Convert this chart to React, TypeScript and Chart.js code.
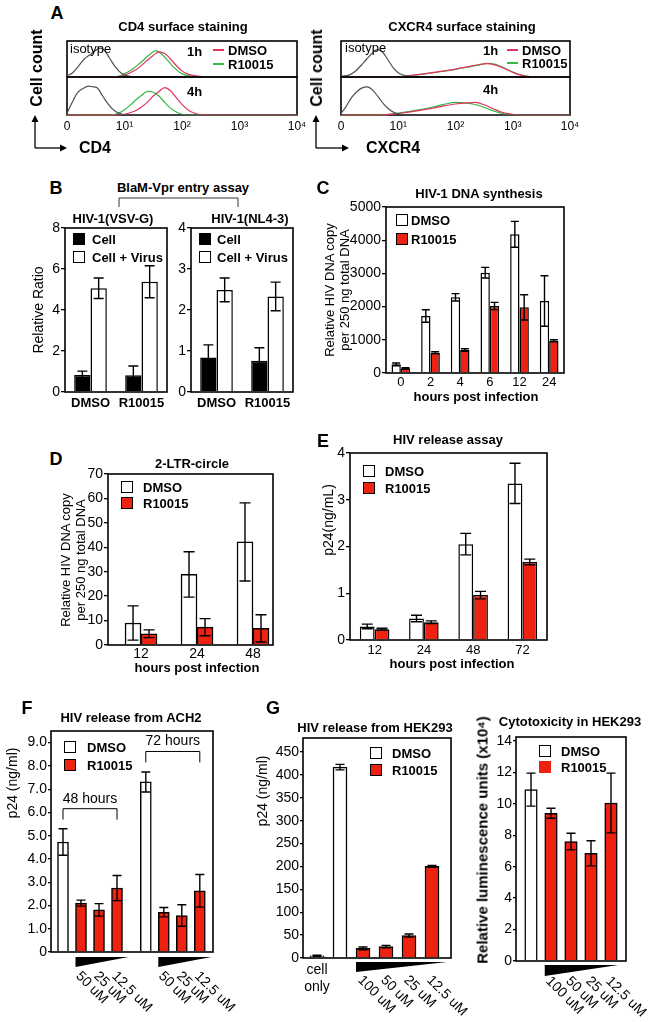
import React, { useEffect, useRef } from 'react';
import { Chart, registerables } from 'chart.js';

Chart.register(...registerables);

const FONT = '"Liberation Sans", Arial, Helvetica, sans-serif';
Chart.defaults.font.family = FONT;
Chart.defaults.color = '#000';

const RED = '#ee2211';
const ISO = '#505050';
const PINK = '#e2345f';
const GREEN = '#35b845';
const PAD = 14;

// ---------------- Panel A: flow histograms (x = decade position, y = relative count) ----------------
const FLOW_TICKS = ['0', '10¹', '10²', '10³', '10⁴'];

const CD4_1H_ISO_X = [0, 0.1, 0.2, 0.3, 0.4, 0.5, 0.58, 0.66, 0.75, 0.85, 0.95, 1.05, 1.2, 4];
const CD4_1H_ISO_Y = [0.03, 0.12, 0.3, 0.5, 0.62, 0.74, 0.8, 0.72, 0.5, 0.26, 0.1, 0.03, 0, 0];
const CD4_1H_DMSO_X = [0, 0.85, 1.0, 1.1, 1.2, 1.3, 1.4, 1.5, 1.6, 1.7, 1.8, 1.9, 2.0, 2.1, 2.25, 2.4, 4];
const CD4_1H_DMSO_Y = [0, 0, 0.05, 0.12, 0.2, 0.33, 0.47, 0.6, 0.7, 0.65, 0.5, 0.32, 0.17, 0.08, 0.03, 0, 0];
const CD4_1H_R_X = [0, 0.8, 0.95, 1.05, 1.15, 1.25, 1.35, 1.45, 1.55, 1.65, 1.75, 1.85, 1.95, 2.05, 2.2, 2.35, 4];
const CD4_1H_R_Y = [0, 0, 0.05, 0.13, 0.23, 0.36, 0.5, 0.64, 0.73, 0.63, 0.46, 0.28, 0.14, 0.06, 0.02, 0, 0];

const CD4_4H_ISO_X = [0, 0.08, 0.18, 0.28, 0.38, 0.45, 0.52, 0.62, 0.72, 0.82, 0.92, 1.02, 4];
const CD4_4H_ISO_Y = [0.05, 0.3, 0.58, 0.7, 0.76, 0.74, 0.72, 0.5, 0.28, 0.12, 0.04, 0, 0];
const CD4_4H_DMSO_X = [0, 0.9, 1.05, 1.2, 1.3, 1.4, 1.5, 1.6, 1.7, 1.8, 1.9, 2.0, 2.1, 2.2, 2.35, 4];
const CD4_4H_DMSO_Y = [0, 0, 0.04, 0.12, 0.22, 0.34, 0.5, 0.62, 0.72, 0.64, 0.46, 0.28, 0.14, 0.06, 0.01, 0];
const CD4_4H_R_X = [0, 0.75, 0.9, 1.0, 1.1, 1.2, 1.3, 1.4, 1.5, 1.6, 1.7, 1.8, 1.9, 2.0, 2.1, 4];
const CD4_4H_R_Y = [0, 0, 0.05, 0.14, 0.26, 0.4, 0.52, 0.62, 0.6, 0.5, 0.33, 0.18, 0.08, 0.02, 0, 0];

const CX_1H_ISO_X = [0, 0.15, 0.25, 0.35, 0.45, 0.55, 0.63, 0.72, 0.82, 0.92, 1.02, 1.15, 1.3, 4];
const CX_1H_ISO_Y = [0.02, 0.06, 0.16, 0.32, 0.5, 0.67, 0.76, 0.7, 0.48, 0.24, 0.1, 0.03, 0, 0];
const CX_1H_DMSO_X = [0, 0.9, 1.2, 1.5, 1.8, 2.0, 2.2, 2.4, 2.55, 2.7, 2.85, 3.0, 3.15, 3.3, 4];
const CX_1H_DMSO_Y = [0, 0, 0.04, 0.1, 0.17, 0.22, 0.28, 0.34, 0.37, 0.33, 0.24, 0.13, 0.05, 0.01, 0];
const CX_1H_R_X = [0, 0.9, 1.2, 1.5, 1.8, 2.0, 2.2, 2.4, 2.55, 2.7, 2.85, 3.0, 3.15, 3.3, 4];
const CX_1H_R_Y = [0, 0, 0.03, 0.09, 0.16, 0.21, 0.27, 0.33, 0.38, 0.35, 0.25, 0.14, 0.05, 0.01, 0];

const CX_4H_ISO_X = [0, 0.08, 0.18, 0.28, 0.38, 0.46, 0.55, 0.65, 0.75, 0.85, 0.95, 1.05, 1.2, 4];
const CX_4H_ISO_Y = [0.05, 0.2, 0.45, 0.62, 0.72, 0.74, 0.66, 0.48, 0.28, 0.14, 0.05, 0.02, 0, 0];
const CX_4H_DMSO_X = [0, 0.7, 1.0, 1.3, 1.6, 1.8, 2.0, 2.2, 2.35, 2.5, 2.65, 2.8, 2.95, 3.1, 4];
const CX_4H_DMSO_Y = [0, 0, 0.04, 0.1, 0.18, 0.24, 0.29, 0.32, 0.33, 0.27, 0.17, 0.08, 0.03, 0, 0];
const CX_4H_R_X = [0, 0.7, 1.0, 1.3, 1.6, 1.8, 2.0, 2.15, 2.3, 2.45, 2.6, 2.75, 2.9, 3.05, 4];
const CX_4H_R_Y = [0, 0, 0.05, 0.12, 0.21, 0.28, 0.33, 0.32, 0.29, 0.23, 0.14, 0.07, 0.02, 0, 0];

// ---------------- Panel B ----------------
const B_CATS = ['DMSO', 'R10015'];
const B_VSV_CELL = [0.83, 0.82];
const B_VSV_CELL_ERR = [0.19, 0.45];
const B_VSV_VIRUS = [5.06, 5.38];
const B_VSV_VIRUS_ERR = [0.5, 0.78];
const B_NL_CELL = [0.84, 0.76];
const B_NL_CELL_ERR = [0.31, 0.32];
const B_NL_VIRUS = [2.49, 2.33];
const B_NL_VIRUS_ERR = [0.29, 0.35];

// ---------------- Panel C ----------------
const C_HOURS = ['0', '2', '4', '6', '12', '24'];
const C_DMSO = [260, 1717, 2280, 3020, 4177, 2170];
const C_DMSO_ERR = [40, 190, 110, 160, 390, 760];
const C_R10015 = [140, 612, 690, 2018, 1978, 973];
const C_R10015_ERR = [20, 30, 40, 110, 380, 30];

// ---------------- Panel D ----------------
const D_HOURS = ['12', '24', '48'];
const D_DMSO = [9.0, 28.9, 42.2];
const D_DMSO_ERR = [7.0, 9.3, 16.0];
const D_R10015 = [4.6, 7.3, 6.8];
const D_R10015_ERR = [1.6, 3.5, 5.6];

// ---------------- Panel E ----------------
const E_HOURS = ['12', '24', '48', '72'];
const E_DMSO = [0.29, 0.46, 2.05, 3.35];
const E_DMSO_ERR = [0.05, 0.07, 0.23, 0.43];
const E_R10015 = [0.23, 0.38, 0.96, 1.67];
const E_R10015_ERR = [0.02, 0.03, 0.08, 0.06];

// ---------------- Panel F ----------------
const F_TIMES = ['48 hours', '72 hours'];
const F_DOSES = ['50 uM', '25 uM', '12.5 uM'];
const F_DMSO = [4.73, 7.31];
const F_DMSO_ERR = [0.57, 0.43];
const F_R10015 = [2.1, 1.81, 2.75, 1.71, 1.57, 2.63];
const F_R10015_ERR = [0.13, 0.27, 0.54, 0.2, 0.46, 0.7];

// ---------------- Panel G ----------------
const G_DOSES = ['100 uM', '50 uM', '25 uM', '12.5 uM'];
const G_CELL_ONLY = [5];
const G_CELL_ONLY_ERR = [1.2];
const G_DMSO = [417];
const G_DMSO_ERR = [6];
const G_R10015 = [21, 25, 49, 200];
const G_R10015_ERR = [3, 2.5, 3.5, 2];
const GT_DMSO = [10.9];
const GT_DMSO_ERR = [1.05];
const GT_R10015 = [9.4, 7.6, 6.85, 10.05];
const GT_R10015_ERR = [0.32, 0.53, 0.8, 1.9];

// slot positions on linear category-like axes (layout)
const D_AT = [0, 1, 2];
const F_DMSO_AT = [0, 4.6];
const F_R_AT = [1, 2, 3, 5.6, 6.6, 7.6];
const G_CELL_AT = [0];
const G_DMSO_AT = [1];
const G_R_AT = [2, 3, 4, 5];
const GT_DMSO_AT = [0];
const GT_R_AT = [1, 2, 3, 4];

// ---------------- plugins ----------------
function framePlugin(under = false, lw = 1.6) {
  const draw = (chart: any) => {
    const { ctx, chartArea: a } = chart;
    ctx.save();
    ctx.strokeStyle = '#000';
    ctx.lineWidth = lw;
    ctx.strokeRect(a.left, a.top, a.right - a.left, a.bottom - a.top);
    ctx.restore();
  };
  return {
    id: 'frame',
    beforeDatasetsDraw(chart: any) { if (under) draw(chart); },
    afterDatasetsDraw(chart: any) { if (!under) draw(chart); },
  };
}

const errPlugin = {
  id: 'errbars',
  afterDatasetsDraw(chart: any) {
    const ctx = chart.ctx;
    const ys = chart.scales.y;
    chart.data.datasets.forEach((ds: any, i: number) => {
      if (!ds.errorBars) return;
      const meta = chart.getDatasetMeta(i);
      meta.data.forEach((el: any, j: number) => {
        const e = ds.errorBars[j];
        const p = meta.controller.getParsed(j);
        if (e == null || !p || p.y == null || isNaN(p.y)) return;
        const x = el.x;
        const y1 = ys.getPixelForValue(p.y + e);
        const y2 = ys.getPixelForValue(p.y - e);
        const cw = ds.errorCap ?? 8;
        ctx.save();
        ctx.strokeStyle = '#000';
        ctx.lineWidth = 1.4;
        ctx.beginPath();
        ctx.moveTo(x, y1); ctx.lineTo(x, y2);
        ctx.moveTo(x - cw / 2, y1); ctx.lineTo(x + cw / 2, y1);
        ctx.moveTo(x - cw / 2, y2); ctx.lineTo(x + cw / 2, y2);
        ctx.stroke();
        ctx.restore();
      });
    });
  },
};

function dosePlugin(s: { groups: { at: number[]; labels: string[] }[]; barW: number; extra: number; gap: number; h: number; dx: number; dy: number; size: number }) {
  return {
    id: 'dose',
    afterDraw(chart: any) {
      const { ctx, chartArea: ca } = chart;
      const xs = chart.scales.x;
      ctx.save();
      ctx.fillStyle = '#000';
      for (const g of s.groups) {
        const x0 = xs.getPixelForValue(g.at[0]) - s.barW / 2;
        const x1 = xs.getPixelForValue(g.at[g.at.length - 1]) + s.barW / 2 + s.extra;
        const top = ca.bottom + s.gap;
        ctx.beginPath();
        ctx.moveTo(x0, top);
        ctx.lineTo(x1, top);
        ctx.lineTo(x0, top + s.h);
        ctx.closePath();
        ctx.fill();
        ctx.font = `${s.size}px ${FONT}`;
        ctx.textAlign = 'left';
        ctx.textBaseline = 'middle';
        g.at.forEach((v, k) => {
          const px = xs.getPixelForValue(v);
          ctx.save();
          ctx.translate(px + s.dx, top + s.h + s.dy);
          ctx.rotate(Math.PI / 4);
          ctx.fillText(g.labels[k], 0, 0);
          ctx.restore();
        });
      }
      ctx.restore();
    },
  };
}

function bracketPlugin(items: { from: number; to: number; y: number; drop: number; label: string }[]) {
  return {
    id: 'brackets',
    afterDatasetsDraw(chart: any) {
      const { ctx } = chart;
      const xs = chart.scales.x;
      const ys = chart.scales.y;
      ctx.save();
      ctx.strokeStyle = '#000';
      ctx.fillStyle = '#000';
      ctx.lineWidth = 1;
      ctx.font = `14px ${FONT}`;
      ctx.textAlign = 'center';
      ctx.textBaseline = 'middle';
      for (const it of items) {
        const x0 = xs.getPixelForValue(it.from);
        const x1 = xs.getPixelForValue(it.to);
        const y = ys.getPixelForValue(it.y);
        const yd = ys.getPixelForValue(it.y - it.drop);
        ctx.beginPath();
        ctx.moveTo(x0, yd); ctx.lineTo(x0, y); ctx.lineTo(x1, y); ctx.lineTo(x1, yd);
        ctx.stroke();
        ctx.fillText(it.label, (x0 + x1) / 2, y - 10);
      }
      ctx.restore();
    },
  };
}

// ---------------- helpers ----------------
function baseOptions() {
  return {
    animation: false,
    responsive: false,
    events: [],
    layout: { padding: PAD },
    plugins: { legend: { display: false }, tooltip: { enabled: false }, title: { display: false } },
  };
}

const yLin = (yW: number, max: number, step: number, o: { fmt?: (v: number) => string; size?: number; tl?: number; pad?: number } = {}) => ({
  type: 'linear', min: 0, max, offset: false,
  ticks: { stepSize: step, includeBounds: false, autoSkip: false, font: { size: o.size ?? 14 }, padding: o.pad ?? 1, callback: (v: number) => (o.fmt ? o.fmt(v) : String(v)) },
  grid: { drawOnChartArea: false, drawTicks: true, tickLength: o.tl ?? 4, color: '#000', lineWidth: 1.3 },
  border: { display: false },
  afterFit: (s: any) => { s.width = yW; },
});

const xCat = (xH: number, o: { size?: number; bold?: boolean; pad?: number } = {}) => ({
  type: 'category', offset: true,
  ticks: { autoSkip: false, maxRotation: 0, minRotation: 0, font: { size: o.size ?? 13, weight: o.bold ? 'bold' : 'normal' }, padding: o.pad ?? 3 },
  grid: { display: false, drawTicks: false },
  border: { display: false },
  afterFit: (s: any) => { s.height = xH; },
});

const xLin = (xH: number, min: number, max: number, o: { labels?: (v: number) => any; size?: number; pad?: number } = {}) => ({
  type: 'linear', min, max, offset: false,
  ticks: { display: !!o.labels, stepSize: 1, includeBounds: false, autoSkip: false, maxRotation: 0, minRotation: 0, font: { size: o.size ?? 14 }, padding: o.pad ?? 3, callback: (v: number) => (o.labels ? o.labels(v) : '') },
  grid: { display: false, drawTicks: false },
  border: { display: false },
  afterFit: (s: any) => { s.height = xH; },
});

const pts = (at: number[], v: number[]) => v.map((y, i) => ({ x: at[i], y }));

const whiteBar = { backgroundColor: '#fff', borderColor: '#000', borderWidth: 1.5 };
const redBar = { backgroundColor: RED, borderColor: '#000', borderWidth: 1.5 };
const blackBar = { backgroundColor: '#000', borderColor: '#000', borderWidth: 1.5 };

type Series = { xs: number[]; ys: number[]; color: string };
const ser = (xs: number[], ys: number[], color: string): Series => ({ xs, ys, color });

function flowConfig(series: Series[], showTicks: boolean) {
  return (_yW: number, xH: number) => ({
    type: 'line',
    data: {
      datasets: series.map((s) => ({
        data: s.xs.map((x, i) => ({ x, y: s.ys[i] })),
        borderColor: s.color, borderWidth: 1.2, pointRadius: 0, fill: false,
        cubicInterpolationMode: 'monotone', clip: 2,
      })),
    },
    options: {
      ...baseOptions(),
      scales: {
        x: showTicks
          ? { type: 'linear', min: 0, max: 4, offset: false,
              ticks: { stepSize: 1, includeBounds: false, autoSkip: false, maxRotation: 0, font: { size: 12 }, padding: 4, callback: (v: number) => FLOW_TICKS[v] ?? '' },
              grid: { display: false, drawTicks: false }, border: { display: false },
              afterFit: (s: any) => { s.height = xH; } }
          : { type: 'linear', min: 0, max: 4, display: false },
        y: { type: 'linear', min: 0, max: 1, display: false },
      },
    },
    plugins: [framePlugin(true, 1.6)],
  });
}

function bConfig(cell: number[], cellErr: number[], virus: number[], virusErr: number[], max: number, step: number) {
  return (yW: number, xH: number) => ({
    type: 'bar',
    data: {
      labels: B_CATS,
      datasets: [
        { label: 'Cell', data: cell, errorBars: cellErr, errorCap: 10, ...blackBar },
        { label: 'Cell + Virus', data: virus, errorBars: virusErr, errorCap: 10, ...whiteBar },
      ],
    },
    options: {
      ...baseOptions(),
      datasets: { bar: { categoryPercentage: 0.64, barPercentage: 1 } },
      scales: { x: xCat(xH, { size: 13, bold: true, pad: 4 }), y: yLin(yW, max, step) },
    },
    plugins: [framePlugin(), errPlugin],
  });
}

const cConfig = (yW: number, xH: number) => ({
  type: 'bar',
  data: {
    labels: C_HOURS,
    datasets: [
      { label: 'DMSO', data: C_DMSO, errorBars: C_DMSO_ERR, errorCap: 8, ...whiteBar },
      { label: 'R10015', data: C_R10015, errorBars: C_R10015_ERR, errorCap: 8, ...redBar },
    ],
  },
  options: {
    ...baseOptions(),
    datasets: { bar: { categoryPercentage: 0.63, barPercentage: 1 } },
    scales: { x: xCat(xH, { size: 13, pad: 2 }), y: yLin(yW, 5000, 1000) },
  },
  plugins: [framePlugin(), errPlugin],
});

const dConfig = (yW: number, xH: number) => ({
  type: 'bar',
  data: {
    datasets: [
      { label: 'DMSO', data: pts(D_AT, D_DMSO), errorBars: D_DMSO_ERR, errorCap: 11, barThickness: 16, ...whiteBar },
      { label: 'R10015', data: pts(D_AT, D_R10015), errorBars: D_R10015_ERR, errorCap: 11, barThickness: 16, ...redBar },
    ],
  },
  options: {
    ...baseOptions(),
    scales: { x: xLin(xH, -0.59, 2.357, { labels: (v) => D_HOURS[v] ?? '', size: 14, pad: 1 }), y: yLin(yW, 70, 10) },
  },
  plugins: [framePlugin(), errPlugin],
});

const eConfig = (yW: number, xH: number) => ({
  type: 'bar',
  data: {
    labels: E_HOURS,
    datasets: [
      { label: 'DMSO', data: E_DMSO, errorBars: E_DMSO_ERR, errorCap: 11, ...whiteBar },
      { label: 'R10015', data: E_R10015, errorBars: E_R10015_ERR, errorCap: 11, ...redBar },
    ],
  },
  options: {
    ...baseOptions(),
    datasets: { bar: { categoryPercentage: 0.6, barPercentage: 1 } },
    scales: { x: xCat(xH, { size: 13, pad: 3 }), y: yLin(yW, 4, 1) },
  },
  plugins: [framePlugin(), errPlugin],
});

const fConfig = (yW: number, xH: number) => ({
  type: 'bar',
  data: {
    datasets: [
      { label: 'DMSO', data: pts(F_DMSO_AT, F_DMSO), errorBars: F_DMSO_ERR, errorCap: 9, barThickness: 11, grouped: false, ...whiteBar },
      { label: 'R10015', data: pts(F_R_AT, F_R10015), errorBars: F_R10015_ERR, errorCap: 9, barThickness: 11, grouped: false, ...redBar },
    ],
  },
  options: {
    ...baseOptions(),
    scales: { x: xLin(xH, -0.667, 8.333), y: yLin(yW, 9.5, 1, { fmt: (v) => (v === 0 ? '0' : v.toFixed(1)), tl: 3 }) },
  },
  plugins: [
    framePlugin(), errPlugin,
    dosePlugin({ groups: [{ at: [1, 2, 3], labels: F_DOSES }, { at: [5.6, 6.6, 7.6], labels: F_DOSES }], barW: 11, extra: 6, gap: 5, h: 10, dx: -3, dy: 7, size: 14 }),
    bracketPlugin([
      { from: 0, to: 3, y: 6.16, drop: 0.47, label: F_TIMES[0] },
      { from: 4.6, to: 7.6, y: 8.62, drop: 0.47, label: F_TIMES[1] },
    ]),
  ],
});

const gConfig = (yW: number, xH: number) => ({
  type: 'bar',
  data: {
    datasets: [
      { label: 'cell only', data: pts(G_CELL_AT, G_CELL_ONLY), errorBars: G_CELL_ONLY_ERR, errorCap: 9, barThickness: 14, grouped: false, ...whiteBar },
      { label: 'DMSO', data: pts(G_DMSO_AT, G_DMSO), errorBars: G_DMSO_ERR, errorCap: 9, barThickness: 14, grouped: false, ...whiteBar },
      { label: 'R10015', data: pts(G_R_AT, G_R10015), errorBars: G_R10015_ERR, errorCap: 9, barThickness: 14, grouped: false, ...redBar },
    ],
  },
  options: {
    ...baseOptions(),
    scales: {
      x: xLin(xH, -0.609, 5.826, { labels: (v) => (v === 0 ? ['cell', 'only'] : ''), size: 14, pad: 4 }),
      y: yLin(yW, 480.6, 50, { tl: 3 }),
    },
  },
  plugins: [
    framePlugin(), errPlugin,
    dosePlugin({ groups: [{ at: G_R_AT, labels: G_DOSES }], barW: 14, extra: 8, gap: 4, h: 10, dx: -3, dy: 6, size: 14 }),
  ],
});

const gtConfig = (yW: number, xH: number) => ({
  type: 'bar',
  data: {
    datasets: [
      { label: 'DMSO', data: pts(GT_DMSO_AT, GT_DMSO), errorBars: GT_DMSO_ERR, errorCap: 9, barThickness: 12.5, grouped: false, ...whiteBar },
      { label: 'R10015', data: pts(GT_R_AT, GT_R10015), errorBars: GT_R10015_ERR, errorCap: 9, barThickness: 12.5, grouped: false, ...redBar },
    ],
  },
  options: {
    ...baseOptions(),
    scales: { x: xLin(xH, -0.75, 4.75), y: yLin(yW, 14.25, 2, { tl: 3 }) },
  },
  plugins: [
    framePlugin(), errPlugin,
    dosePlugin({ groups: [{ at: GT_R_AT, labels: G_DOSES }], barW: 12.5, extra: 1, gap: 4, h: 11, dx: -3, dy: 3, size: 14 }),
  ],
});

// ---------------- components ----------------
type Box = { l: number; t: number; r: number; b: number };

function ChartBox({ box, yW = 0, xH = 0, padR = PAD, make }: { box: Box; yW?: number; xH?: number; padR?: number; make: (yW: number, xH: number) => any }) {
  const ref = useRef<HTMLCanvasElement | null>(null);
  const w = box.r - box.l + yW + PAD + padR;
  const h = box.b - box.t + xH + 2 * PAD;
  useEffect(() => {
    if (!ref.current) return;
    const cfg = make(yW, xH);
    cfg.options.layout = { padding: { left: PAD, top: PAD, bottom: PAD, right: padR } };
    const chart = new Chart(ref.current, cfg);
    return () => chart.destroy();
  }, []);
  return (
    <canvas
      ref={ref}
      width={w}
      height={h}
      style={{ position: 'absolute', left: box.l - yW - PAD, top: box.t - PAD, width: w, height: h }}
    />
  );
}

function T({ x, y, s = 13, b = false, a = 'c', r = 0, children }: any) {
  return (
    <div
      style={{
        position: 'absolute', left: x, top: y, fontSize: s, fontWeight: b ? 'bold' : 'normal',
        lineHeight: 1, whiteSpace: 'nowrap',
        transform: `translate(${a === 'c' ? '-50%' : '0'}, -50%)${r ? ` rotate(${r}deg)` : ''}`,
      }}
    >
      {children}
    </div>
  );
}

function Sq({ x, y, fill, border = true }: any) {
  return (
    <div
      style={{
        position: 'absolute', left: x - 6, top: y - 6, width: 12, height: 12, boxSizing: 'border-box',
        background: fill, border: border ? '1.5px solid #000' : 'none',
      }}
    />
  );
}

const CD4_1H = [ser(CD4_1H_ISO_X, CD4_1H_ISO_Y, ISO), ser(CD4_1H_DMSO_X, CD4_1H_DMSO_Y, PINK), ser(CD4_1H_R_X, CD4_1H_R_Y, GREEN)];
const CD4_4H = [ser(CD4_4H_ISO_X, CD4_4H_ISO_Y, ISO), ser(CD4_4H_DMSO_X, CD4_4H_DMSO_Y, PINK), ser(CD4_4H_R_X, CD4_4H_R_Y, GREEN)];
const CX_1H = [ser(CX_1H_ISO_X, CX_1H_ISO_Y, ISO), ser(CX_1H_DMSO_X, CX_1H_DMSO_Y, PINK), ser(CX_1H_R_X, CX_1H_R_Y, GREEN)];
const CX_4H = [ser(CX_4H_ISO_X, CX_4H_ISO_Y, ISO), ser(CX_4H_DMSO_X, CX_4H_DMSO_Y, PINK), ser(CX_4H_R_X, CX_4H_R_Y, GREEN)];

export default function App() {
  return (
    <div
      style={{
        position: 'absolute', left: 0, top: 0, width: 650, height: 1022, overflow: 'hidden',
        background: '#fff', fontFamily: FONT, color: '#000',
      }}
    >
      <svg width={650} height={1022} style={{ position: 'absolute', left: 0, top: 0 }}>
        {/* Panel A axis arrows */}
        <line x1={35} y1={148} x2={35} y2={121} stroke="#000" strokeWidth={1.3} />
        <polygon points="35,115 31.5,122 38.5,122" fill="#000" />
        <line x1={35} y1={148} x2={61} y2={148} stroke="#000" strokeWidth={1.3} />
        <polygon points="67,148 60,144.5 60,151.5" fill="#000" />
        <line x1={316} y1={148} x2={316} y2={121} stroke="#000" strokeWidth={1.3} />
        <polygon points="316,115 312.5,122 319.5,122" fill="#000" />
        <line x1={316} y1={148} x2={343} y2={148} stroke="#000" strokeWidth={1.3} />
        <polygon points="349,148 342,144.5 342,151.5" fill="#000" />
        {/* Panel A legend lines */}
        <line x1={213} y1={50} x2={224} y2={50} stroke={PINK} strokeWidth={2} />
        <line x1={213} y1={64} x2={224} y2={64} stroke={GREEN} strokeWidth={2} />
        <line x1={507} y1={50} x2={518} y2={50} stroke={PINK} strokeWidth={2} />
        <line x1={507} y1={63} x2={518} y2={63} stroke={GREEN} strokeWidth={2} />
        {/* Panel B bracket */}
        <polyline points="119,207 119,198 238,198 238,207" fill="none" stroke="#333" strokeWidth={1} />
      </svg>

      {/* Panel A */}
      <ChartBox box={{ l: 67, t: 41, r: 297, b: 77 }} make={flowConfig(CD4_1H, false)} />
      <ChartBox box={{ l: 67, t: 77, r: 297, b: 115 }} xH={20} make={flowConfig(CD4_4H, true)} />
      <ChartBox box={{ l: 341, t: 41, r: 570, b: 77 }} make={flowConfig(CX_1H, false)} />
      <ChartBox box={{ l: 341, t: 77, r: 570, b: 115 }} xH={20} make={flowConfig(CX_4H, true)} />

      {/* Panel B */}
      <ChartBox box={{ l: 65, t: 228, r: 167, b: 392 }} yW={30} xH={24} make={bConfig(B_VSV_CELL, B_VSV_CELL_ERR, B_VSV_VIRUS, B_VSV_VIRUS_ERR, 8, 2)} />
      <ChartBox box={{ l: 191, t: 228, r: 293, b: 392 }} yW={30} xH={24} make={bConfig(B_NL_CELL, B_NL_CELL_ERR, B_NL_VIRUS, B_NL_VIRUS_ERR, 4, 1)} />

      {/* Panel C */}
      <ChartBox box={{ l: 386, t: 207, r: 564, b: 373 }} yW={42} xH={20} make={cConfig} />

      {/* Panel D */}
      <ChartBox box={{ l: 108, t: 474, r: 273, b: 645 }} yW={30} xH={20} make={dConfig} />

      {/* Panel E */}
      <ChartBox box={{ l: 350, t: 453, r: 547, b: 640 }} yW={22} xH={20} make={eConfig} />

      {/* Panel F */}
      <ChartBox box={{ l: 51, t: 731, r: 213, b: 952 }} yW={36} xH={60} padR={44} make={fConfig} />

      {/* Panel G */}
      <ChartBox box={{ l: 303, t: 738, r: 451, b: 958 }} yW={34} xH={60} padR={44} make={gConfig} />
      <ChartBox box={{ l: 516, t: 737, r: 626, b: 961 }} yW={22} xH={60} padR={24} make={gtConfig} />

      {/* ---- Texts: Panel A ---- */}
      <T x={57} y={13} s={18} b>A</T>
      <T x={183} y={26} b>CD4 surface staining</T>
      <T x={462} y={26} b>CXCR4 surface staining</T>
      <T x={70} y={48} a="l">isotype</T>
      <T x={345} y={47} a="l">isotype</T>
      <T x={187} y={51} a="l" b>1h</T>
      <T x={483} y={50} a="l" b>1h</T>
      <T x={228} y={50} a="l" b>DMSO</T>
      <T x={228} y={64} a="l" b>R10015</T>
      <T x={522} y={50} a="l" b>DMSO</T>
      <T x={522} y={63} a="l" b>R10015</T>
      <T x={187} y={91} a="l" b>4h</T>
      <T x={483} y={89} a="l" b>4h</T>
      <T x={37} y={68} s={16} b r={-90}>Cell count</T>
      <T x={317} y={68} s={16} b r={-90}>Cell count</T>
      <T x={79} y={148} s={16} a="l" b>CD4</T>
      <T x={366} y={148} s={16} a="l" b>CXCR4</T>

      {/* ---- Panel B ---- */}
      <T x={56} y={188} s={18} b>B</T>
      <T x={183} y={187} b>BlaM-Vpr entry assay</T>
      <T x={113} y={218} b>HIV-1(VSV-G)</T>
      <T x={250} y={218} b>HIV-1(NL4-3)</T>
      <T x={38} y={310} s={14} r={-90}>Relative Ratio</T>
      <Sq x={79} y={239} fill="#000" />
      <T x={92} y={239} a="l" b>Cell</T>
      <Sq x={79} y={257} fill="#fff" />
      <T x={92} y={257} a="l" b>Cell + Virus</T>
      <Sq x={205} y={239} fill="#000" />
      <T x={217} y={239} a="l" b>Cell</T>
      <Sq x={205} y={257} fill="#fff" />
      <T x={217} y={257} a="l" b>Cell + Virus</T>

      {/* ---- Panel C ---- */}
      <T x={323} y={188} s={18} b>C</T>
      <T x={479} y={193} b>HIV-1 DNA synthesis</T>
      <T x={329} y={290} r={-90}>Relative HIV DNA copy</T>
      <T x={344} y={290} r={-90}>per 250 ng total DNA</T>
      <Sq x={402} y={220} fill="#fff" />
      <T x={411} y={220} a="l" b>DMSO</T>
      <Sq x={402} y={239} fill={RED} />
      <T x={411} y={239} a="l" b>R10015</T>
      <T x={476} y={396} b>hours post infection</T>

      {/* ---- Panel D ---- */}
      <T x={56} y={459} s={18} b>D</T>
      <T x={192} y={463} b>2-LTR-circle</T>
      <T x={65} y={560} r={-90}>Relative HIV DNA copy</T>
      <T x={80} y={560} r={-90}>per 250 ng total DNA</T>
      <Sq x={127} y={487} fill="#fff" />
      <T x={143} y={487} a="l" b>DMSO</T>
      <Sq x={127} y={503} fill={RED} />
      <T x={143} y={503} a="l" b>R10015</T>
      <T x={197} y={667} b>hours post infection</T>

      {/* ---- Panel E ---- */}
      <T x={323} y={441} s={18} b>E</T>
      <T x={448} y={439} b>HIV release assay</T>
      <T x={328} y={520} s={14} r={-90}>p24(ng/mL)</T>
      <Sq x={369} y={471} fill="#fff" />
      <T x={385} y={471} a="l" b>DMSO</T>
      <Sq x={369} y={488} fill={RED} />
      <T x={385} y={488} a="l" b>R10015</T>
      <T x={452} y={663} b>hours post infection</T>

      {/* ---- Panel F ---- */}
      <T x={27} y={708} s={18} b>F</T>
      <T x={131} y={717} b>HIV release from ACH2</T>
      <T x={12} y={783} s={14} r={-90}>p24 (ng/ml)</T>
      <Sq x={70} y={747} fill="#fff" />
      <T x={87} y={747} a="l" b>DMSO</T>
      <Sq x={70} y={765} fill={RED} />
      <T x={87} y={765} a="l" b>R10015</T>

      {/* ---- Panel G ---- */}
      <T x={273} y={708} s={18} b>G</T>
      <T x={375} y={727} b>HIV release from HEK293</T>
      <T x={262} y={791} s={14} r={-90}>p24 (ng/ml)</T>
      <Sq x={376} y={753} fill="#fff" />
      <T x={392} y={753} a="l" b>DMSO</T>
      <Sq x={376} y={770} fill={RED} />
      <T x={392} y={770} a="l" b>R10015</T>
      <T x={570} y={721} b>Cytotoxicity in HEK293</T>
      <T x={482} y={840} s={15} b r={-90}>Relative luminescence units (x10⁴)</T>
      <Sq x={545} y={751} fill="#fff" />
      <T x={561} y={751} a="l" b>DMSO</T>
      <Sq x={545} y={767} fill={RED} border={false} />
      <T x={561} y={767} a="l" b>R10015</T>
    </div>
  );
}
